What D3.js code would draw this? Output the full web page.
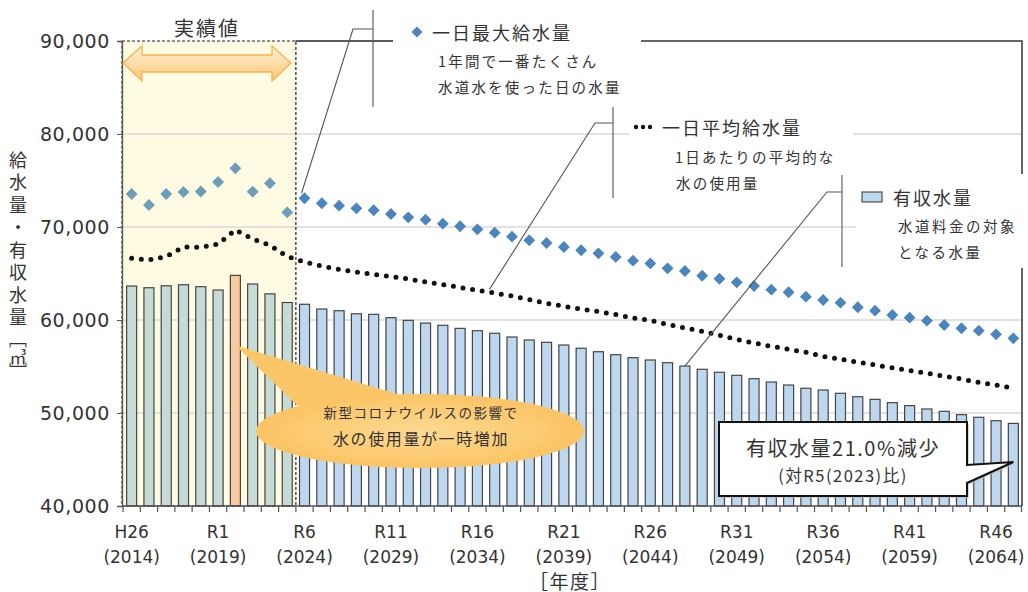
<!DOCTYPE html>
<html><head><meta charset="utf-8">
<script src="https://cdn.jsdelivr.net/npm/d3@7"></script>
<style>body{margin:0;background:#fff;} svg{display:block}</style>
</head><body>
<svg id="c" width="1028" height="592"></svg>
<script>
const years = [2014,2015,2016,2017,2018,2019,2020,2021,2022,2023,
  2024,2025,2026,2027,2028,2029,2030,2031,2032,2033,
  2034,2035,2036,2037,2038,2039,2040,2041,2042,2043,
  2044,2045,2046,2047,2048,2049,2050,2051,2052,2053,
  2054,2055,2056,2057,2058,2059,2060,2061,2062,2063,
  2064,2065];
// 有収水量
const revenueWater = [63650,63470,63680,63790,63580,63220,64800,63870,62810,61880,
  61690,61180,61000,60670,60610,60250,59960,59670,59430,59100,
  58850,58570,58170,57850,57600,57310,56960,56590,56270,55950,
  55700,55410,55050,54700,54380,54050,53690,53330,53010,52660,
  52470,52120,51750,51470,51110,50790,50430,50180,49820,49540,
  49170,48880];
// 一日最大給水量
const maxSupply = [73550,72370,73550,73760,73820,74840,76310,73800,74700,71580,
  73090,72550,72290,72010,71800,71400,71040,70790,70360,70080,
  69750,69390,68960,68570,68280,67850,67500,67170,66780,66380,
  66080,65560,65270,64760,64440,64050,63660,63260,62980,62510,
  62150,61860,61370,61000,60540,60250,59930,59460,59110,58850,
  58460,58030];
// 一日平均給水量
const avgSupply = [66630,66450,66830,67850,67800,68170,69680,68710,68030,66830,
  66240,65810,65430,65160,64890,64680,64410,64090,63800,63500,
  63190,62900,62580,62200,61800,61470,61180,60910,60590,60220,
  59950,59520,59140,58790,58360,57900,57530,57170,56850,56530,
  56080,55780,55480,55160,54870,54570,54270,53950,53660,53280,
  53010,52660];
const lastActualYear = 2023;
const covidYear = 2020;
const tickYears = [2014,2019,2024,2029,2034,2039,2044,2049,2054,2059,2064];
const tickEra = ["H26","R1","R6","R11","R16","R21","R26","R31","R36","R41","R46"];
const yTicks = [40000,50000,60000,70000,80000,90000];
const gridTicks = [50000,60000,70000,80000];

const JP = "'Noto Sans CJK JP','Noto Sans',sans-serif";
const NUM = "'DejaVu Sans',sans-serif";
const svg = d3.select("#c");
const L = 122, R = 1022, T = 41, B = 506;

const x = d3.scaleBand().domain(years).range([123, R]).paddingInner(0.42).paddingOuter(0.21);
const y = d3.scaleLinear().domain([40000, 90000]).range([B, T]);
const step = x.step();
const cx = d => x(d) + x.bandwidth()/2;

const defs = svg.append("defs");
const ag = defs.append("linearGradient").attr("id","arrowG").attr("x1",0).attr("y1",0).attr("x2",0).attr("y2",1);
ag.append("stop").attr("offset","0%").attr("stop-color","#fff3d9");
ag.append("stop").attr("offset","100%").attr("stop-color","#fbc676");
const eg = defs.append("radialGradient").attr("id","ellG");
eg.append("stop").attr("offset","0%").attr("stop-color","#fdd992");
eg.append("stop").attr("offset","100%").attr("stop-color","#fbc464");

// actual region background
const regionRight = x(lastActualYear) + x.bandwidth() + step*0.21;
svg.append("rect").attr("x", L).attr("y", T).attr("width", regionRight - L).attr("height", B - T).attr("fill", "#fffbe3");

// gridlines
svg.append("g").selectAll("line").data(gridTicks).join("line")
  .attr("x1", L).attr("x2", R).attr("y1", d => y(d)).attr("y2", d => y(d))
  .attr("stroke", "#d9d9d9").attr("stroke-width", 1.3);

// bars
svg.append("g").selectAll("rect").data(years).join("rect")
  .attr("x", d => x(d)).attr("width", x.bandwidth())
  .attr("y", (d,i) => y(revenueWater[i])).attr("height", (d,i) => B - y(revenueWater[i]))
  .attr("fill", d => d === covidYear ? "#f9c9a1" : (d <= lastActualYear ? "#c6dbd6" : "#bdd7ee"))
  .attr("stroke", "#454545").attr("stroke-width", 1.2);

// dotted average line
svg.append("path").datum(years)
  .attr("d", d3.line().x(d => cx(d)).y((d,i) => y(avgSupply[i])))
  .attr("fill","none").attr("stroke","#111").attr("stroke-width",5)
  .attr("stroke-linecap","round").attr("stroke-dasharray","0 9.7");

// diamonds
const diamond = d3.symbol(d3.symbolSquare, 70);
svg.append("g").selectAll("path").data(years).join("path")
  .attr("d", diamond)
  .attr("transform", (d,i) => `translate(${cx(d)},${y(maxSupply[i])}) rotate(45)`)
  .attr("fill", d => d <= lastActualYear ? "#6c9db9" : "#4a85be");

// dashed region border
svg.append("rect").attr("x", L).attr("y", T).attr("width", regionRight - L).attr("height", B - T)
  .attr("fill","none").attr("stroke","#222").attr("stroke-width",1.2).attr("stroke-dasharray","3 2");

// plot borders (top & right)
svg.append("path").attr("d", `M${regionRight},${T}H${R}V${B}`).attr("fill","none").attr("stroke","#333").attr("stroke-width",1.5);

// y axis
const ya = svg.append("g").attr("transform", `translate(${L},0)`)
  .call(d3.axisLeft(y).tickValues(yTicks).tickSize(5).tickFormat(d3.format(",")));
ya.select(".domain").attr("stroke","#555").attr("stroke-width",1.3);
ya.selectAll(".tick line").attr("stroke","#555");
ya.selectAll(".tick text").attr("x",-12).attr("font-family",NUM).attr("font-size",19)
  .attr("letter-spacing",0.6).attr("fill","#333");

// x axis
const xa = svg.append("g").attr("transform", `translate(0,${B})`)
  .call(d3.axisBottom(x).tickValues(tickYears).tickSize(0).tickFormat(""));
xa.select(".domain").remove();
svg.append("line").attr("x1",L).attr("x2",R).attr("y1",B).attr("y2",B).attr("stroke","#555").attr("stroke-width",1.3);
svg.append("g").selectAll("line").data(years.concat([null])).join("line")
  .attr("x1", d => d === null ? R - 0.5 : x(d) - step*0.21)
  .attr("x2", d => d === null ? R - 0.5 : x(d) - step*0.21)
  .attr("y1", B).attr("y2", B + 6).attr("stroke","#555").attr("stroke-width",1.2);
xa.selectAll(".tick text").each(function(d){
  const t = d3.select(this).attr("y", null).attr("dy", null)
    .attr("font-family", NUM).attr("font-size", 17).attr("fill", "#333");
  const i = tickYears.indexOf(d);
  t.append("tspan").attr("x",0).attr("y",26).text(tickEra[i]);
  t.append("tspan").attr("x",0).attr("y",51).text(`(${d})`);
});
xa.selectAll(".tick text").attr("dominant-baseline","central");

svg.append("text").attr("x",570).attr("y",580).attr("text-anchor","middle").attr("dominant-baseline","central")
  .attr("font-family",JP).attr("font-size",19).attr("letter-spacing",1.5).attr("fill","#333").text("［年度］");

// y title (vertical)
const vt = (yy, s) => svg.append("text").attr("x",18).attr("y",yy)
  .style("writing-mode","vertical-rl").attr("font-family",JP).attr("font-size",18)
  .attr("letter-spacing",4.5).attr("fill","#333").text(s);
vt(151, "給水量・有収水量");
vt(330, "［");
svg.append("text").attr("x",18).attr("y",356).attr("text-anchor","middle").attr("dominant-baseline","central")
  .attr("font-family",JP).attr("font-size",17).attr("fill","#333").text("㎥");
vt(362, "］");

// legend cover boxes
[[393,0,248,108],[630,110,223,88],[856,174,174,94]].forEach(b => {
  svg.append("rect").attr("x",b[0]).attr("y",b[1]).attr("width",b[2]).attr("height",b[3]).attr("fill","#fff");
});

// leader lines
const lc = "#555";
function leader(pts){ svg.append("path").attr("d", d3.line()(pts)).attr("fill","none").attr("stroke",lc).attr("stroke-width",1.1); }
leader([[373,10],[373,107]]);
leader([[295,41],[393,41]]);
leader([[373,29],[353,29],[cx(2024)-3, y(maxSupply[10]) - 5]]);
leader([[613,107],[613,198]]);
leader([[613,123],[595,123],[cx(2034)+12, y(avgSupply[20]) - 1]]);
leader([[842,175],[842,267]]);
leader([[842,192],[827,192],[cx(2046), y(revenueWater[32])]]);

// legends
const txt = (xx,yy,s,fs,ls) => svg.append("text").attr("x",xx).attr("y",yy).attr("dominant-baseline","central")
  .attr("font-family",JP).attr("font-size",fs).attr("letter-spacing",ls).attr("fill","#333").text(s);
svg.append("path").attr("d", d3.symbol(d3.symbolSquare, 60)).attr("transform","translate(417,32) rotate(45)").attr("fill","#4a85be");
txt(432,32,"一日最大給水量",18,2);
txt(438,60,"1年間で一番たくさん",14.5,2.2);
txt(438,86,"水道水を使った日の水量",14.5,2.2);
[636,643,650].forEach(px => svg.append("circle").attr("cx",px).attr("cy",127).attr("r",2.2).attr("fill","#111"));
txt(662,127,"一日平均給水量",18,2);
txt(675,156,"1日あたりの平均的な",14.5,2.2);
txt(676,182,"水の使用量",14.5,2.2);
svg.append("rect").attr("x",862).attr("y",192).attr("width",20).attr("height",10).attr("fill","#bdd7ee").attr("stroke","#404040").attr("stroke-width",1.1);
txt(893,197,"有収水量",18,2);
txt(898,225,"水道料金の対象",14.5,2.5);
txt(898,251,"となる水量",14.5,2.5);

// actual-value arrow & title
svg.append("path").attr("d","M123,63 L142,46 L142,55 L272,55 L272,46 L291,63 L272,81 L272,72 L142,72 L142,81 Z")
  .attr("fill","url(#arrowG)").attr("stroke","#f5b24e").attr("stroke-width",1.3);
svg.append("text").attr("x",207).attr("y",27).attr("text-anchor","middle").attr("dominant-baseline","central")
  .attr("font-family",JP).attr("font-size",20).attr("letter-spacing",2).attr("fill","#333").text("実績値");

// COVID bubble
const tipX = cx(covidYear), tipY = y(revenueWater[6]) + 70;
svg.append("path").attr("d",`M${tipX},${tipY} L410,398 L302,410 Z`).attr("fill","#fbc668");
svg.append("ellipse").attr("cx",420).attr("cy",431).attr("rx",164).attr("ry",37).attr("fill","url(#ellG)");
svg.append("text").attr("x",421).attr("y",412).attr("text-anchor","middle").attr("dominant-baseline","central")
  .attr("font-family",JP).attr("font-size",13.5).attr("letter-spacing",1.5).attr("fill","#333").text("新型コロナウイルスの影響で");
svg.append("text").attr("x",421).attr("y",438).attr("text-anchor","middle").attr("dominant-baseline","central")
  .attr("font-family",JP).attr("font-size",16).attr("letter-spacing",1.6).attr("fill","#333").text("水の使用量が一時増加");

// reduction callout box
const tip2x = cx(2065), tip2y = 462;
svg.append("path").attr("d",`M721,424 H969 V467 L${tip2x+2},${tip2y+2} L969,485 V498 H721 Z`).attr("fill","#bbb").attr("opacity",0.6);
svg.append("path").attr("d",`M719,422 H967 V465 L${tip2x},${tip2y} L967,483 V496 H719 Z`)
  .attr("fill","#fff").attr("stroke","#111").attr("stroke-width",2);
svg.append("text").attr("x",843).attr("y",447).attr("text-anchor","middle").attr("dominant-baseline","central")
  .attr("font-family",JP).attr("font-size",20).attr("letter-spacing",1.5).attr("fill","#333").text("有収水量21.0%減少");
svg.append("text").attr("x",843).attr("y",475).attr("text-anchor","middle").attr("dominant-baseline","central")
  .attr("font-family",JP).attr("font-size",16.5).attr("letter-spacing",1.5).attr("fill","#333").text("(対R5(2023)比)");
</script>
</body></html>
